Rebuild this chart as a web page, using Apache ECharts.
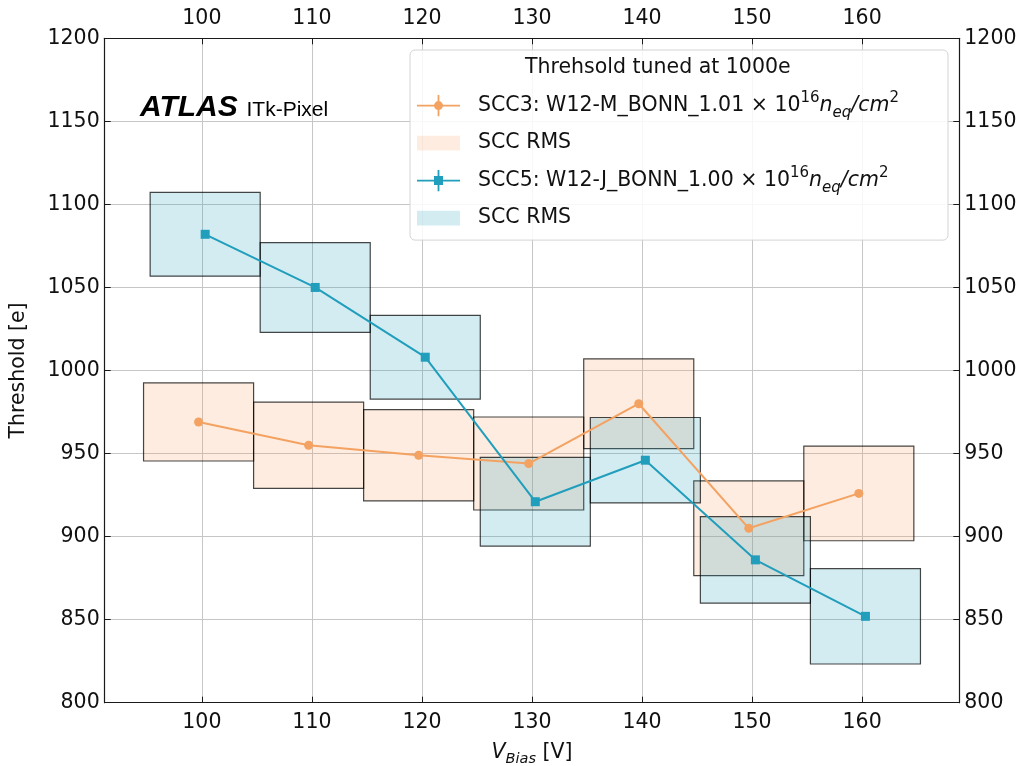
<!DOCTYPE html>
<html>
<head>
<meta charset="utf-8">
<script src="https://cdn.jsdelivr.net/npm/echarts@6/dist/echarts.min.js"></script>
<style>
  html, body { margin: 0; padding: 0; background: #ffffff; }
  #chart { width: 1020px; height: 766px; }
</style>
</head>
<body>
<div id="chart"></div>
<script>
// Bias voltage scan points [V]
const biasVoltages = [100, 110, 120, 130, 140, 150, 160];

// SCC3: W12-M_BONN, mean threshold and RMS [e]
const scc3Threshold = [969, 955, 949, 944, 980, 905, 926];
const scc3Rms = [23.5, 26, 27.5, 28, 27, 28.5, 28.5];

// SCC5: W12-J_BONN, mean threshold and RMS [e]
const scc5Threshold = [1082, 1050, 1008, 921, 946, 886, 852];
const scc5Rms = [25.2, 27, 25.2, 26.7, 25.7, 26, 28.7];

// Small horizontal offsets so the two modules do not sit on top of each other
const scc3Shift = -0.3;
const scc5Shift = 0.3;
// Half width of each RMS box along the voltage axis [V]
const binHalfWidth = 5;

const FONT = 'DejaVu Sans';
const X_MIN = 91.17, X_MAX = 168.83;
const Y_MIN = 800, Y_MAX = 1200, Y_STEP = 50;

const scc3Color = '#f4a261';
const scc5Color = '#219ebc';
const scc3Fill = 'rgba(244,162,97,0.2)';
const scc5Fill = 'rgba(33,158,188,0.2)';

const legendLabels = {
  'SCC3': 'SCC3: W12-M_BONN_1.01 × 10{sup|16}{it|n}{sub|eq}{it|/cm}{sup|2}',
  'SCC3 RMS': 'SCC RMS',
  'SCC5': 'SCC5: W12-J_BONN_1.00 × 10{sup|16}{it|n}{sub|eq}{it|/cm}{sup|2}',
  'SCC5 RMS': 'SCC RMS'
};

// Legend handles: errorbar cross with marker, and a filled patch.
// The leading moves fix the icon's bounding box to 56 x 22.
const iconFrame = 'M0,0 M56,22 ';
const errorCross = 'M0,10.1 h43 v1.8 h-43 Z M20.6,0.3 h1.8 v21.4 h-1.8 Z ';
const circleIcon = 'path://' + iconFrame + errorCross + 'M17,11 a4.5,4.5 0 1,1 9,0 a4.5,4.5 0 1,1 -9,0 Z';
const squareIcon = 'path://' + iconFrame + errorCross + 'M17,6.5 h9 v9 h-9 Z';
const patchIcon = 'path://' + iconFrame + 'M0,3.7 h43 v14.6 h-43 Z';

function boxRenderer(fill) {
  return function (params, api) {
    const x = api.value(0), y = api.value(1), r = api.value(2);
    const p0 = api.coord([x - binHalfWidth, y + r]);
    const p1 = api.coord([x + binHalfWidth, y - r]);
    return {
      type: 'rect',
      shape: { x: p0[0], y: p0[1], width: p1[0] - p0[0], height: p1[1] - p0[1] },
      style: { fill: fill, stroke: 'rgba(0,0,0,0.72)', lineWidth: 1.2 }
    };
  };
}

const plainNumber = function (value) { return String(value); };
const tickLabel = { fontFamily: FONT, fontSize: 20.5, color: '#111111', formatter: plainNumber };
const axisLineStyle = { color: '#1a1a1a', width: 1.2 };
const tickStyle = { show: true, inside: true, length: 6, lineStyle: { color: '#1a1a1a', width: 1 } };

function xAxisDef(position, withGrid) {
  return {
    type: 'value', position: position, min: X_MIN, max: X_MAX,
    minInterval: 10, maxInterval: 10, splitNumber: 8,
    axisLine: { show: true, onZero: false, lineStyle: axisLineStyle },
    axisTick: tickStyle,
    axisLabel: Object.assign({ margin: 9, showMinLabel: false, showMaxLabel: false }, tickLabel),
    splitLine: { show: withGrid, lineStyle: { color: '#c6c6c6', width: 1 } }
  };
}
function yAxisDef(position, withGrid) {
  return {
    type: 'value', position: position, min: Y_MIN, max: Y_MAX, interval: Y_STEP,
    axisLine: { show: true, onZero: false, lineStyle: axisLineStyle },
    axisTick: tickStyle,
    axisLabel: Object.assign({ margin: 5 }, tickLabel),
    splitLine: { show: withGrid, lineStyle: { color: '#c6c6c6', width: 1 } }
  };
}

const xBottom = xAxisDef('bottom', true);
xBottom.name = '{v|V}{s|Bias} [V]';
xBottom.nameLocation = 'middle';
xBottom.nameGap = 36;
xBottom.nameTextStyle = {
  fontFamily: FONT, fontSize: 20.5, color: '#111111', lineHeight: 28,
  rich: {
    v: { fontFamily: FONT, fontSize: 20.5, fontStyle: 'italic', color: '#111111', lineHeight: 28 },
    s: { fontFamily: FONT, fontSize: 14.5, fontStyle: 'italic', color: '#111111', lineHeight: 16, verticalAlign: 'bottom' }
  }
};
const xTop = xAxisDef('top', false);

const yLeft = yAxisDef('left', true);
yLeft.name = 'Threshold [e]';
yLeft.nameLocation = 'middle';
yLeft.nameGap = 76;
yLeft.nameTextStyle = { fontFamily: FONT, fontSize: 20.5, color: '#111111' };
const yRight = yAxisDef('right', false);

const chart = echarts.init(document.getElementById('chart'), null, { renderer: 'canvas' });

chart.setOption({
  animation: false,
  backgroundColor: '#ffffff',
  textStyle: { fontFamily: FONT },
  grid: { left: 104.7, right: 60.7, top: 38.3, bottom: 63.3, containLabel: false, outerBoundsMode: 'none' },
  title: [
    {
      text: 'ATLAS', left: 140, top: 90.7, padding: 0,
      textStyle: { fontFamily: 'Liberation Sans', fontWeight: 'bold', fontStyle: 'italic', fontSize: 30, lineHeight: 34, color: '#000000' }
    },
    {
      text: 'ITk-Pixel', left: 246.5, top: 98.5, padding: 0,
      textStyle: { fontFamily: 'Liberation Sans', fontWeight: 'normal', fontSize: 21, lineHeight: 24, color: '#000000' }
    },
    {
      text: 'Threhsold tuned at 1000e', left: 525, top: 55.2, padding: 0, z: 10,
      textStyle: { fontFamily: FONT, fontWeight: 'normal', fontSize: 20.5, lineHeight: 24, color: '#111111' }
    }
  ],
  legend: {
    orient: 'vertical', left: 410, top: 50,
    padding: [40.6, 49, 7, 7],
    itemGap: 7.5, itemWidth: 56, itemHeight: 22,
    backgroundColor: 'rgba(255,255,255,0.85)',
    borderColor: '#d4d4d4', borderWidth: 1, borderRadius: 5,
    selectedMode: false,
    itemStyle: { borderWidth: 0 },
    formatter: function (name) { return legendLabels[name]; },
    textStyle: {
      fontFamily: FONT, fontSize: 20.5, color: '#111111', lineHeight: 30,
      rich: {
        it: { fontFamily: FONT, fontSize: 20.5, fontStyle: 'italic', color: '#111111', lineHeight: 30 },
        sup: { fontFamily: FONT, fontSize: 15, color: '#111111', lineHeight: 12, verticalAlign: 'top' },
        sub: { fontFamily: FONT, fontSize: 15, fontStyle: 'italic', color: '#111111', lineHeight: 23, verticalAlign: 'bottom' }
      }
    },
    data: [
      { name: 'SCC3', icon: circleIcon, itemStyle: { color: scc3Color, borderWidth: 0 } },
      { name: 'SCC3 RMS', icon: patchIcon, itemStyle: { color: scc3Fill, borderWidth: 0 } },
      { name: 'SCC5', icon: squareIcon, itemStyle: { color: scc5Color, borderWidth: 0 } },
      { name: 'SCC5 RMS', icon: patchIcon, itemStyle: { color: scc5Fill, borderWidth: 0 } }
    ]
  },
  xAxis: [xBottom, xTop],
  yAxis: [yLeft, yRight],
  series: [
    {
      type: 'custom', name: 'SCC3 RMS', xAxisIndex: 0, yAxisIndex: 0,
      encode: { x: 0, y: 1 },
      itemStyle: { color: scc3Fill },
      data: biasVoltages.map((v, i) => [v + scc3Shift, scc3Threshold[i], scc3Rms[i]]),
      renderItem: boxRenderer(scc3Fill),
      silent: true, z: 2
    },
    {
      type: 'custom', name: 'SCC5 RMS', xAxisIndex: 0, yAxisIndex: 0,
      encode: { x: 0, y: 1 },
      itemStyle: { color: scc5Fill },
      data: biasVoltages.map((v, i) => [v + scc5Shift, scc5Threshold[i], scc5Rms[i]]),
      renderItem: boxRenderer(scc5Fill),
      silent: true, z: 2
    },
    {
      type: 'line', name: 'SCC3', xAxisIndex: 0, yAxisIndex: 0,
      data: biasVoltages.map((v, i) => [v + scc3Shift, scc3Threshold[i]]),
      symbol: 'circle', symbolSize: 9,
      lineStyle: { color: scc3Color, width: 2 },
      itemStyle: { color: scc3Color, borderWidth: 0 },
      emphasis: { disabled: true }, silent: true, z: 3
    },
    {
      type: 'line', name: 'SCC5', xAxisIndex: 0, yAxisIndex: 0,
      data: biasVoltages.map((v, i) => [v + scc5Shift, scc5Threshold[i]]),
      symbol: 'rect', symbolSize: 9,
      lineStyle: { color: scc5Color, width: 2 },
      itemStyle: { color: scc5Color, borderWidth: 0 },
      emphasis: { disabled: true }, silent: true, z: 3
    }
  ]
});
</script>
</body>
</html>
